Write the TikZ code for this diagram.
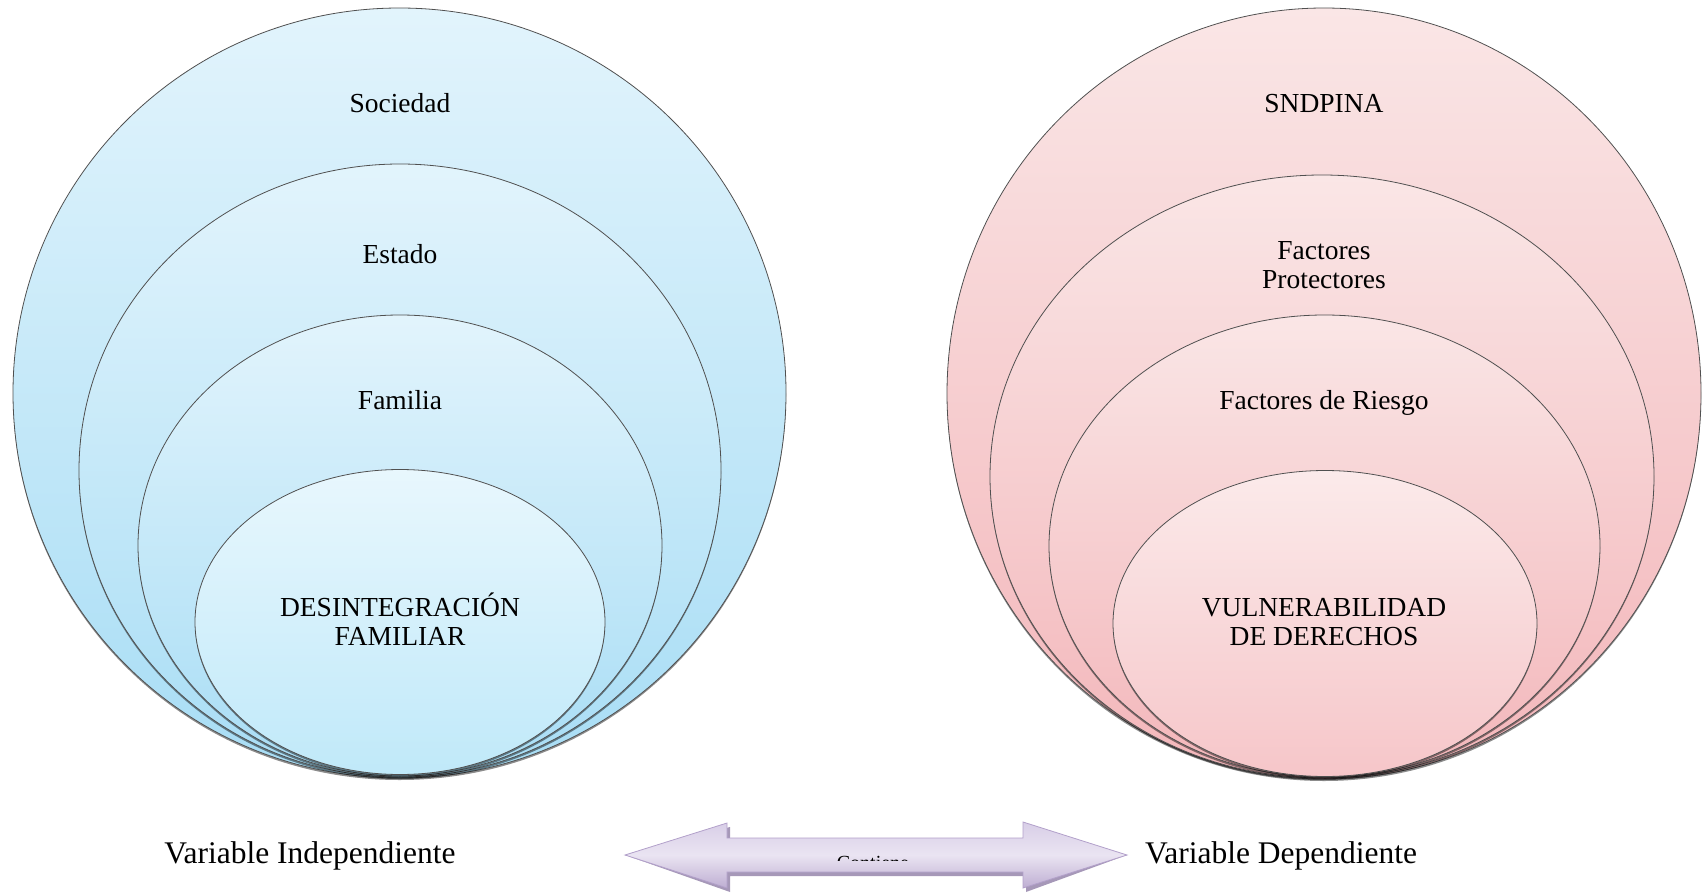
\documentclass[tikz,border=0pt]{standalone}
\usepackage{fontspec}
\setmainfont{Liberation Serif}
\usetikzlibrary{shapes.geometric,shadows}
\definecolor{bluetop}{RGB}{226,244,252}
\definecolor{bluebot}{RGB}{168,221,245}
\definecolor{bluetopin}{RGB}{232,247,253}
\definecolor{bluebotin}{RGB}{192,233,249}
\definecolor{pinktop}{RGB}{250,230,230}
\definecolor{pinkbot}{RGB}{243,182,186}
\definecolor{pinktopin}{RGB}{251,234,234}
\definecolor{pinkbotin}{RGB}{246,198,201}
\definecolor{edgegray}{RGB}{80,80,80}
\definecolor{arrowlight}{RGB}{234,228,242}
\definecolor{arrowmid}{RGB}{216,206,231}
\definecolor{arrowdark}{RGB}{190,174,210}
\definecolor{arrowedge}{RGB}{178,160,202}
\definecolor{arrowshadow}{RGB}{150,134,172}
\tikzset{
  ring/.style={ellipse, draw=edgegray, line width=0.8pt, inner sep=0pt,
    drop shadow={shadow xshift=0pt, shadow yshift=-2pt, opacity=0.45, fill=black}},
  bluering/.style={ring, top color=bluetop, bottom color=bluebot},
  blueinner/.style={ring, top color=bluetopin, bottom color=bluebotin},
  pinkring/.style={ring, top color=pinktop, bottom color=pinkbot},
  pinkinner/.style={ring, top color=pinktopin, bottom color=pinkbotin},
  lbl/.style={anchor=base, align=center, font=\fontsize{27.5}{28.5}\selectfont, inner sep=0pt},
  varlbl/.style={anchor=base, font=\fontsize{31.5}{33}\selectfont, inner sep=0pt},
}
\begin{document}
\begin{tikzpicture}[x=1pt,y=-1pt]
\useasboundingbox (0,0) rectangle (1702,894);
% left set
\node[bluering, minimum width=773pt, minimum height=770pt] (L1) at (399.5,393) {};
\node[bluering, minimum width=642pt, minimum height=613pt] (L2) at (400,470.5) {};
\node[bluering, minimum width=524pt, minimum height=461pt] (L3) at (400,545.5) {};
\node[blueinner, minimum width=410pt, minimum height=305pt] (L4) at (400,622) {};
\node[lbl] (tsoc) at (400,112) {Sociedad};
\node[lbl] (test) at (400,263) {Estado};
\node[lbl] (tfam) at (400,409) {Familia};
\node[lbl] (tdes) at (400,645) {DESINTEGRACIÓN\\FAMILIAR};
% right set
\node[pinkring, minimum width=754pt, minimum height=771pt] (R1) at (1324,393.5) {};
\node[pinkring, minimum width=664pt, minimum height=603pt] (R2) at (1322,476.5) {};
\node[pinkring, minimum width=551pt, minimum height=462pt] (R3) at (1324.5,546) {};
\node[pinkinner, minimum width=424pt, minimum height=306pt] (R4) at (1325,623.5) {};
\node[lbl] (tsnd) at (1324,112) {SNDPINA};
\node[lbl] (tfp) at (1324,288) {Factores\\Protectores};
\node[lbl] (tfr) at (1324,409) {Factores de Riesgo};
\node[lbl] (tvul) at (1324,645) {VULNERABILIDAD\\DE DERECHOS};
% bottom labels
\node[varlbl] (vind) at (310,863) {Variable Independiente};
\node[varlbl] (vdep) at (1281,863) {Variable Dependiente};
% double arrow
\coordinate (tipL) at (625,855);
\coordinate (tipR) at (1127,855);
\path[fill=arrowshadow, opacity=0.85, xshift=3pt, yshift=-4pt]
  (tipL) -- (727,823) -- (727,838) -- (1023,838) -- (1023,822) -- (tipR)
  -- (1023,888) -- (1023,872) -- (727,872) -- (727,888) -- cycle;
\path[draw=arrowedge, line width=0.8pt, top color=arrowmid, bottom color=arrowdark, middle color=arrowlight]
  (tipL) -- (727,823) -- (727,838) -- (1023,838) -- (1023,822) -- (tipR)
  -- (1023,888) -- (1023,872) -- (727,872) -- (727,888) -- cycle;
\begin{scope}
\clip (790,840) rectangle (960,860.5);
\node[anchor=base, font=\fontsize{20}{22}\selectfont, inner sep=0pt] (cont) at (873,869) {Contiene};
\end{scope}
\end{tikzpicture}
\end{document}
